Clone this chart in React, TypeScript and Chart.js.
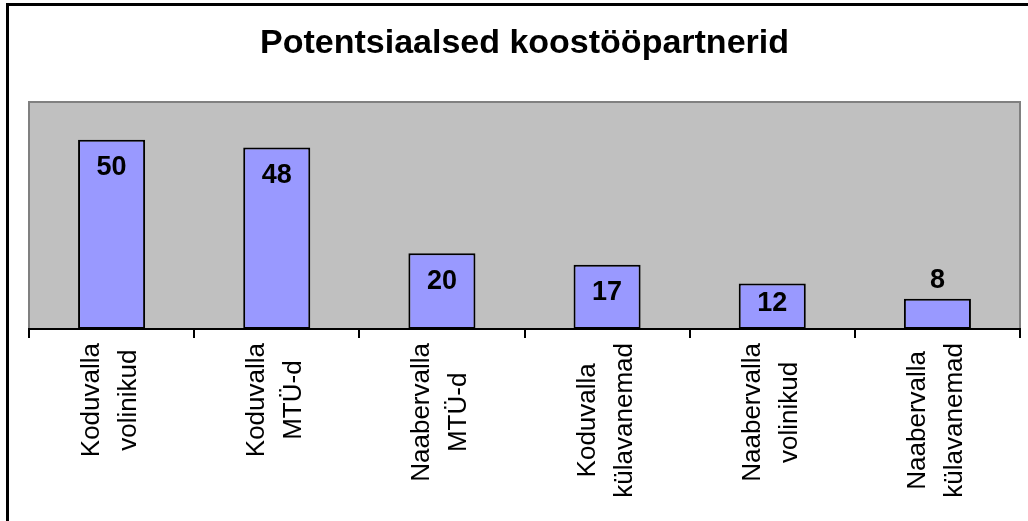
import React, { useEffect, useRef } from "react";
import { Chart, registerables } from "chart.js";

Chart.register(...registerables);

const titleText = "Potentsiaalsed koostööpartnerid";
const categories: string[][] = [
  ["Koduvalla", "volinikud"],
  ["Koduvalla", "MTÜ-d"],
  ["Naabervalla", "MTÜ-d"],
  ["Koduvalla", "külavanemad"],
  ["Naabervalla", "volinikud"],
  ["Naabervalla", "külavanemad"],
];
const values: number[] = [50, 48, 20, 17, 12, 8];
const yMax = 60;

const FONT = "'Liberation Sans', Arial, sans-serif";

const decorPlugin = {
  id: "decor",
  beforeDraw(chart: any) {
    const { ctx, chartArea } = chart;
    const { left, top, right, bottom } = chartArea;
    ctx.save();
    ctx.fillStyle = "#C0C0C0";
    ctx.fillRect(left, top, right - left, bottom - top);
    ctx.strokeStyle = "#808080";
    ctx.lineWidth = 2;
    ctx.beginPath();
    ctx.moveTo(left, bottom);
    ctx.lineTo(left, top);
    ctx.lineTo(right, top);
    ctx.lineTo(right, bottom);
    ctx.stroke();
    ctx.restore();
  },
  afterDraw(chart: any) {
    const { ctx } = chart;
    const xScale = chart.scales.x;
    const yScale = chart.scales.y;
    ctx.save();
    // title
    ctx.fillStyle = "#000";
    ctx.font = `bold 34px ${FONT}`;
    ctx.textAlign = "center";
    ctx.textBaseline = "alphabetic";
    ctx.fillText(titleText, (chart.chartArea.left + chart.chartArea.right) / 2, 53);

    // data labels
    ctx.font = `bold 27px ${FONT}`;
    ctx.textBaseline = "middle";
    const meta = chart.getDatasetMeta(0);
    const base = yScale.getPixelForValue(0);
    meta.data.forEach((bar: any, i: number) => {
      const topY = bar.y;
      const h = base - topY;
      const cy = h >= 40 ? Math.min(topY + 28, base - 25) : topY - 18;
      ctx.fillText(String(values[i]), bar.x, cy);
    });

    // category labels (rotated, centered lines)
    ctx.font = `26px ${FONT}`;
    ctx.textBaseline = "alphabetic";
    const yTop = 343;
    categories.forEach((lines, i) => {
      const cx = xScale.getPixelForValue(i);
      const widths = lines.map((l) => ctx.measureText(l).width);
      const L = Math.max(...widths);
      const offs = [-12.5, 24.5];
      lines.forEach((line, j) => {
        ctx.save();
        ctx.translate(cx + offs[j], yTop + L / 2);
        ctx.rotate(-Math.PI / 2);
        ctx.textAlign = "center";
        ctx.textBaseline = "alphabetic";
        ctx.fillText(line, 0, 0);
        ctx.restore();
      });
    });
    ctx.restore();
  },
};

export default function App() {
  const ref = useRef<HTMLCanvasElement>(null);
  useEffect(() => {
    if (!ref.current) return;
    const chart = new Chart(ref.current, {
      type: "bar",
      data: {
        labels: categories.map((c) => c.join(" ")),
        datasets: [
          {
            data: values,
            backgroundColor: "#9999FF",
            borderColor: "#000000",
            borderWidth: 2,
            borderSkipped: false,
            barPercentage: 0.406,
            categoryPercentage: 1,
          },
        ],
      },
      options: {
        animation: false,
        responsive: false,
        maintainAspectRatio: false,
        layout: { padding: { left: 29, right: 8, top: 102, bottom: 183 } },
        plugins: {
          legend: { display: false },
          title: { display: false },
          tooltip: { enabled: false },
        },
        scales: {
          x: {
            ticks: { display: false },
            grid: {
              display: true,
              drawOnChartArea: false,
              drawTicks: true,
              tickLength: 9,
              color: "#000000",
              lineWidth: 2,
              offset: true,
            },
            border: { display: true, color: "#000000", width: 2 },
          },
          y: {
            display: false,
            min: 0,
            max: yMax,
          },
        },
      },
      plugins: [decorPlugin],
    });
    return () => chart.destroy();
  }, []);

  return (
    <div style={{ position: "absolute", left: 0, top: 0, width: 1028, height: 521, overflow: "hidden", background: "#fff" }}>
      <div
        style={{
          position: "absolute",
          left: 6,
          top: 3,
          width: 1100,
          height: 700,
          borderLeft: "3px solid #000",
          borderTop: "3px solid #000",
          boxSizing: "border-box",
        }}
      />
      <canvas ref={ref} width={1028} height={521} style={{ position: "absolute", left: 0, top: 0, width: 1028, height: 521 }} />
    </div>
  );
}
